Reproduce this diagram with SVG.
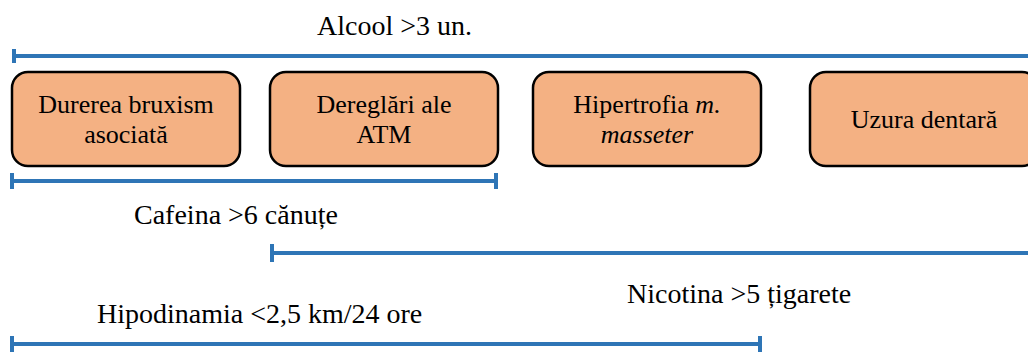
<svg xmlns="http://www.w3.org/2000/svg" width="1028" height="352" viewBox="0 0 1028 352">
<defs>
<rect id="boxshape" width="228" height="94" rx="16" fill="#F4B183" stroke="#000" stroke-width="2.5"/>
</defs>
<rect width="1028" height="352" fill="#fff"/>
<g id="node1"><use href="#boxshape" x="12" y="72"/>
<text x="126" y="113" font-family="Liberation Serif" font-size="26" text-anchor="middle">Durerea bruxism</text><text x="126" y="143" font-family="Liberation Serif" font-size="26" text-anchor="middle">asociat&#259;</text></g>
<g id="node2"><use href="#boxshape" x="270" y="72"/>
<text x="384" y="113" font-family="Liberation Serif" font-size="26" text-anchor="middle">Deregl&#259;ri ale</text><text x="384" y="143" font-family="Liberation Serif" font-size="26" text-anchor="middle">ATM</text></g>
<g id="node3"><use href="#boxshape" x="533" y="72"/>
<text x="647" y="113" font-family="Liberation Serif" font-size="26" text-anchor="middle">Hipertrofia <tspan font-style="italic">m.</tspan></text><text x="647" y="143" font-family="Liberation Serif" font-size="26" text-anchor="middle" font-style="italic">masseter</text></g>
<g id="node4"><use href="#boxshape" x="810" y="72"/>
<text x="924" y="128" font-family="Liberation Serif" font-size="26" text-anchor="middle">Uzura dentar&#259;</text></g>
<g id="connectors" stroke="#2E75B6" stroke-width="4" fill="none">
<path d="M14 56H1028M14 49V63"/>
<path d="M12 181H496M12 173V189M496 173V189"/>
<path d="M272 253H1028M272 244V262"/>
<path d="M12 344H760M12 336V352M760 336V352"/>
</g>
<g id="labels">
<text x="317" y="35" font-family="Liberation Serif" font-size="28">Alcool &gt;3 un.</text>
<text x="134" y="224" font-family="Liberation Serif" font-size="28">Cafeina &gt;6 c&#259;nu&#539;e</text>
<text x="627" y="303" font-family="Liberation Serif" font-size="28">Nicotina &gt;5 &#539;igarete</text>
<text x="97" y="323" font-family="Liberation Serif" font-size="28">Hipodinamia &lt;2,5 km/24 ore</text>
</g>
</svg>
